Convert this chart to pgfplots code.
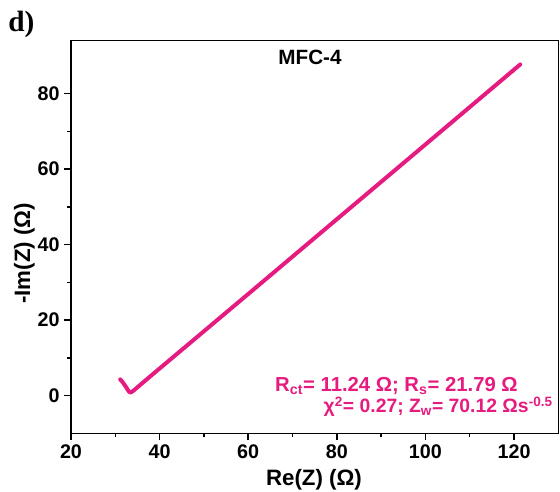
\documentclass[border=0pt]{standalone}
\usepackage{pgfplots}
\pgfplotsset{compat=1.18}
\usepackage{fontspec}
\setmainfont{Liberation Sans}
\newfontfamily\serifb{Liberation Serif}
\definecolor{pk}{RGB}{230,27,128}
\begin{document}
\begin{tikzpicture}
\path[use as bounding box] (0,0) rectangle (420pt,369pt);
\begin{axis}[at={(53.25pt,44pt)}, anchor=south west, scale only axis,
  width=365.5pt, height=294.5pt,
  xmin=20, xmax=130, ymin=-10, ymax=94,
  xtick={20,40,...,120}, ytick={0,20,...,80},
  minor x tick num=1, minor y tick num=1,
  tick pos=left, tick align=outside,
  major tick length=5pt, minor tick length=3pt,
  axis line style={line width=1.1pt}, tick style={line width=1.1pt, black},
  /pgf/number format/assume math mode=true,
  ticklabel style={font=\fontsize{14.8}{17}\selectfont\bfseries},
  clip=false]
\addplot[pk, line width=3pt, line join=round, line cap=round] coordinates {
(31.1,4.3) (31.7,3.5) (32.4,2.3) (33.1,1.0) (33.5,0.8) (34.2,1.4) (35.5,2.7) (38,5.2)
(45,12.1) (60,26.9) (80,46.7) (100,66.5) (121.4,87.7)};
\end{axis}
\node[anchor=base] at (235.5pt,4.7pt) {\fontsize{16.7}{19}\selectfont\bfseries Re(Z) (Ω)};
\node[anchor=base, rotate=90] at (22.5pt,178.9pt) {\fontsize{16.7}{19}\selectfont\bfseries -Im(Z) (Ω)};
\node[anchor=base] at (232.5pt,320.25pt) {\fontsize{15.5}{17}\selectfont\bfseries MFC-4};
\node[anchor=base west, inner sep=0pt] at (6pt,345pt) {\serifb\fontsize{22}{26}\selectfont\bfseries d)};
\node[anchor=base east, inner sep=0pt, text=pk] at (388.5pt,75.2pt) {\fontsize{15.2}{17}\selectfont\bfseries R\textsubscript{ct}= 11.24 Ω; R\textsubscript{s}= 21.79 Ω};
\node[anchor=base east, inner sep=0pt, text=pk] at (414.75pt,59.25pt) {\fontsize{14.5}{17}\selectfont\bfseries χ\textsuperscript{2}= 0.27; Z\textsubscript{w}= 70.12 Ωs\textsuperscript{-0.5}};
\end{tikzpicture}
\end{document}
